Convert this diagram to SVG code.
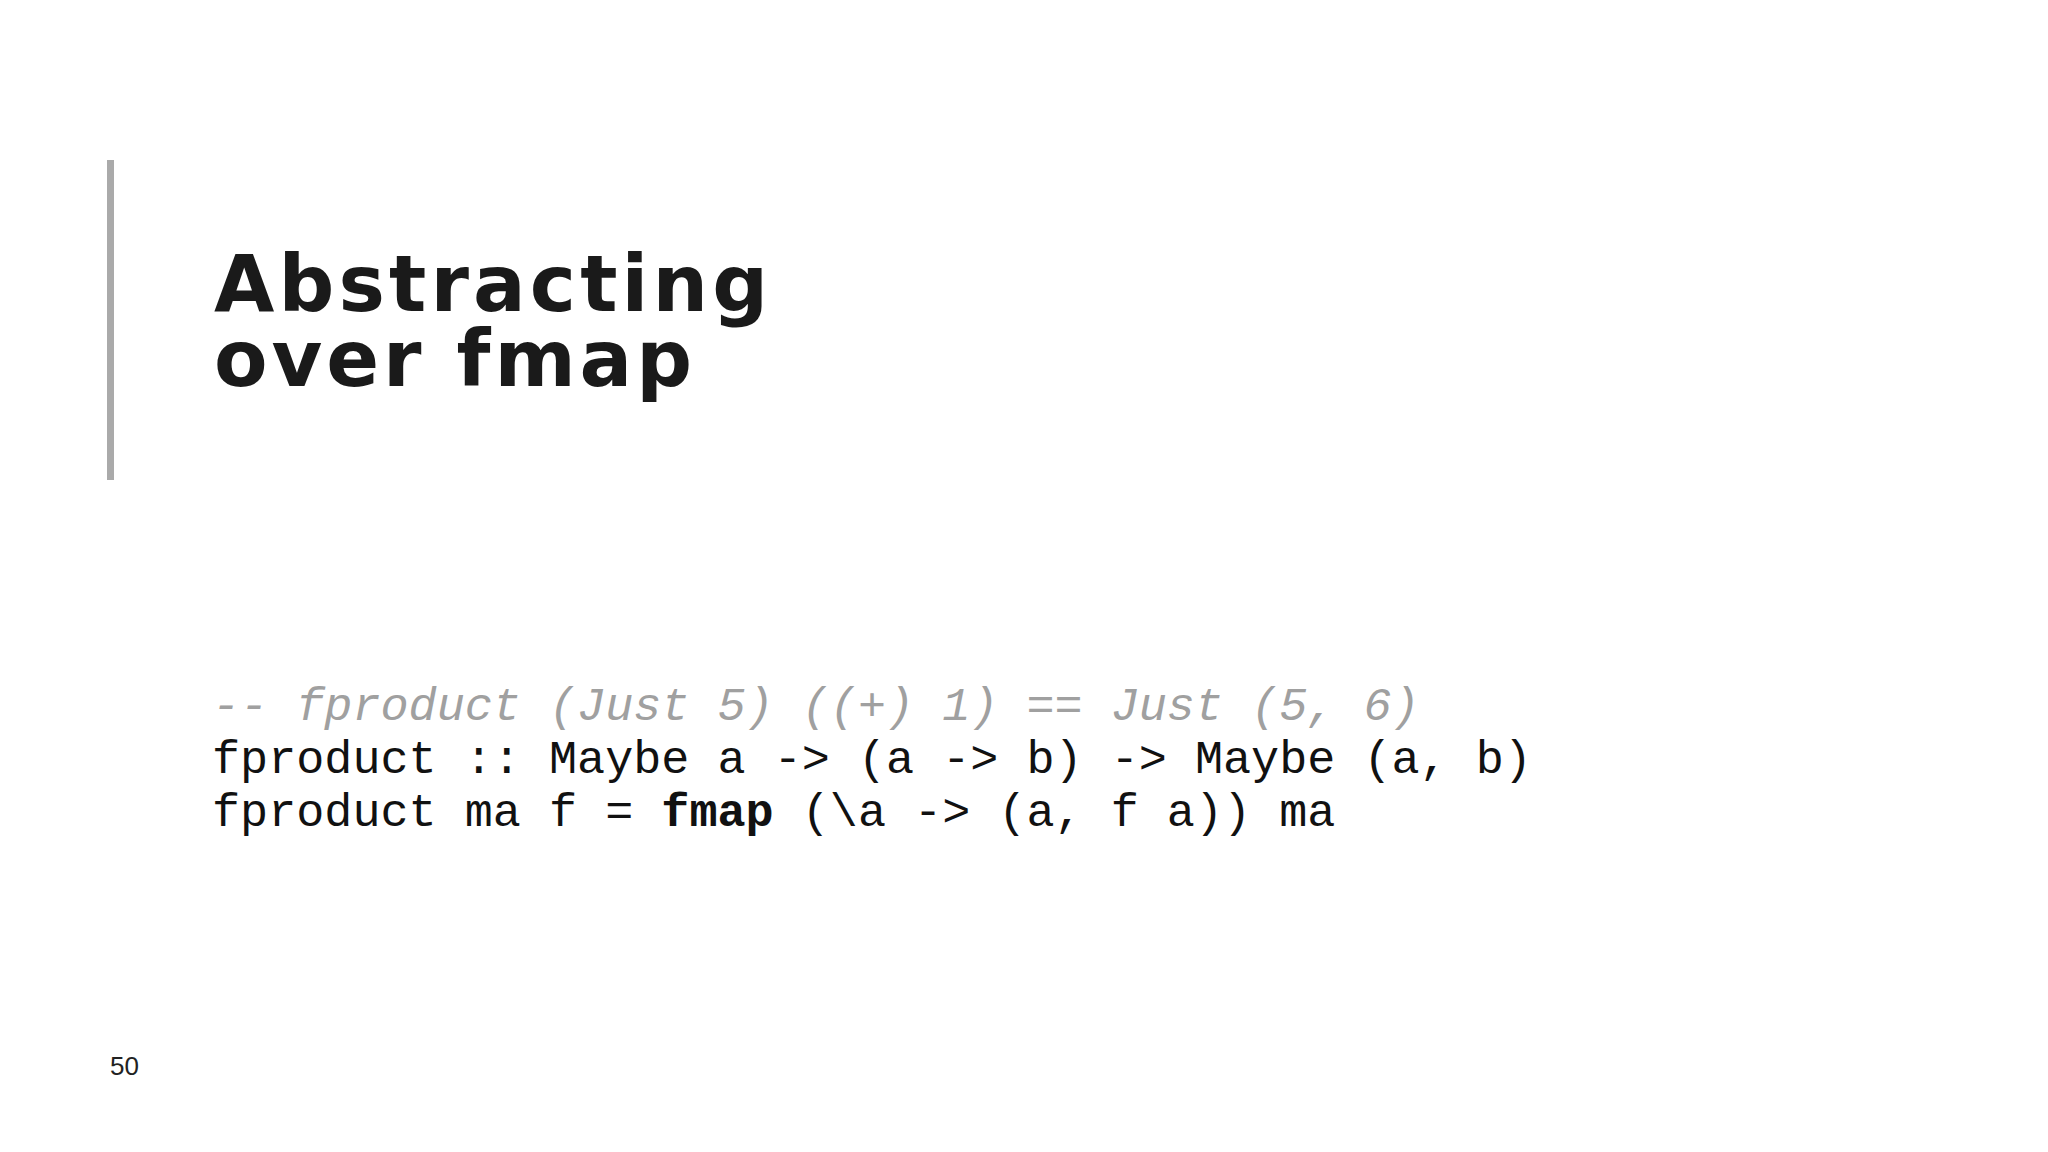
<svg xmlns="http://www.w3.org/2000/svg" width="2048" height="1152" viewBox="0 0 2048 1152">
<style>
.title{font-family:"DejaVu Sans","Liberation Sans",sans-serif;font-weight:bold;font-size:78px;fill:#1a1a1a}
.code{font-family:"Liberation Mono","DejaVu Sans Mono",monospace;font-size:46.8px;fill:#111111;white-space:pre}
.comment{fill:#a0a0a0;font-style:italic}
.bold{font-weight:bold}
.page{font-family:"Liberation Sans",Arial,sans-serif;font-size:26px;fill:#222222}
</style>
<rect width="2048" height="1152" fill="#ffffff"/>
<g id="accent-bar">
<rect x="107" y="160" width="7" height="320" fill="#aaaaaa"/>
</g>
<g id="title">
<text class="title" x="214" y="311" textLength="554" lengthAdjust="spacing">Abstracting</text>
<text class="title" x="214" y="386" textLength="478" lengthAdjust="spacing">over fmap</text>
</g>
<g id="code">
<text class="code comment" x="212" y="720" xml:space="preserve">-- fproduct (Just 5) ((+) 1) == Just (5, 6)</text>
<text class="code" x="212" y="773" xml:space="preserve">fproduct :: Maybe a -&gt; (a -&gt; b) -&gt; Maybe (a, b)</text>
<text class="code" x="212" y="826" xml:space="preserve">fproduct ma f = <tspan class="bold">fmap</tspan> (\a -&gt; (a, f a)) ma</text>
</g>
<g id="page-number">
<text class="page" x="110" y="1075">50</text>
</g>
</svg>
